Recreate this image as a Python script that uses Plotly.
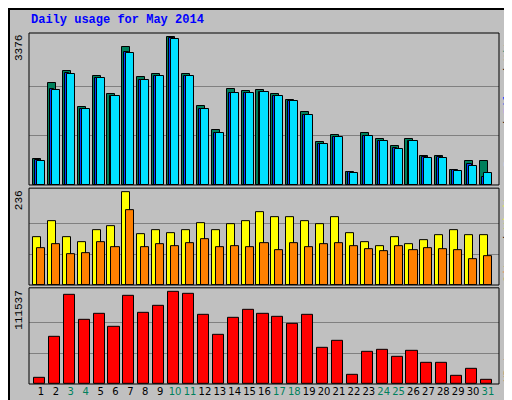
import plotly.graph_objects as go

days = list(range(1, 32))
hits = [603, 2322, 2597, 1772, 2482, 2070, 3147, 2459, 2528, 3376, 2528, 1795, 1245, 2184, 2139, 2162,
        2070, 1932, 1657, 970, 1130, 306, 1176, 1039, 878, 1039, 672, 657, 351, 558, 558]
files = [570, 2180, 2545, 1740, 2450, 2035, 3032, 2405, 2495, 3345, 2495, 1740, 1190, 2105, 2105, 2128,
         2035, 1920, 1600, 935, 1095, 290, 1120, 1005, 845, 1005, 640, 640, 335, 473, 176]
pages = [558, 2162, 2528, 1726, 2436, 2024, 3009, 2391, 2482, 3330, 2482, 1726, 1176, 2093, 2093, 2116,
         2024, 1910, 1589, 924, 1085, 283, 1108, 993, 832, 993, 626, 626, 328, 443, 283]
visits = [123, 162, 121, 110, 141, 151, 236, 131, 139, 133, 141, 159, 139, 154, 162, 187,
          172, 172, 162, 154, 172, 133, 110, 100, 123, 105, 115, 126, 141, 126, 126]
sites = [95, 103, 80, 82, 110, 97, 192, 97, 105, 100, 108, 118, 97, 100, 97, 108,
         90, 108, 97, 103, 108, 100, 92, 87, 100, 90, 95, 92, 90, 67, 74]
kbytes = [7734, 57804, 107873, 77343, 84670, 70016, 106652, 85891, 94440, 111537, 109095, 83449, 60247,
          79786, 89556, 84670, 81007, 73680, 83449, 44371, 52919, 11398, 39486, 41929, 33380, 40707,
          26053, 26053, 10177, 18725, 5292]
weekend = [3, 4, 10, 11, 17, 18, 24, 25, 31]

BG = "#C0C0C0"
fig = go.Figure()
def bar(y, color, off, w, ax):
    fig.add_trace(go.Bar(x=days, y=y, marker=dict(color=color, line=dict(color="black", width=1)),
                         offset=off, width=w, xaxis="x" + ax, yaxis="y" + ax, hoverinfo="y"))
bar(hits, "#00805C", -0.54, 0.54, "")
bar(files, "#0040FF", -0.4, 0.3, "")
bar(pages, "#00E0FF", -0.27, 0.54, "")
bar(visits, "#FFFF00", -0.54, 0.54, "2")
bar(sites, "#FF8000", -0.27, 0.54, "2")
bar(kbytes, "#FF0000", -0.47, 0.74, "3")

xr = [0.195, 31.74]
ticktext = [f"<span style='color:#00805C'>{d}</span>" if d in weekend else str(d) for d in days]
common_x = dict(range=xr, showgrid=False, zeroline=False, fixedrange=True, automargin=False)
common_y = dict(showticklabels=False, gridcolor="#808080", zeroline=False, automargin=False)
mono = "Liberation Mono"
fig.update_layout(
    width=512, height=400, margin=dict(l=21, r=21, t=25, b=24, autoexpand=False),
    paper_bgcolor=BG, plot_bgcolor=BG, barmode="overlay", showlegend=False, bargap=0,
    font=dict(family=mono, size=12, color="black"),
    xaxis=dict(**common_x, anchor="y", showticklabels=False),
    xaxis2=dict(**common_x, anchor="y2", showticklabels=False),
    xaxis3=dict(**common_x, anchor="y3", tickvals=days, ticktext=ticktext, ticks="", tickangle=0,
                tickfont=dict(family="DejaVu Sans", size=10)),
    yaxis=dict(**common_y, domain=[0.567, 1], range=[0, 3467], tickvals=[3376/3, 2*3376/3]),
    yaxis2=dict(**common_y, domain=[0.282, 0.558], range=[0, 247], tickvals=[236/3, 2*236/3]),
    yaxis3=dict(**common_y, domain=[0, 0.274], range=[0, 116800], tickvals=[111537/3, 2*111537/3]),
)
shapes = []
for dom in ([0.567, 1], [0.282, 0.558], [0, 0.274]):
    shapes.append(dict(type="rect", xref="paper", yref="paper", x0=0, x1=1, y0=dom[0], y1=dom[1],
                       line=dict(color="black", width=1)))
shapes.append(dict(type="rect", xref="paper", yref="paper", x0=-20/470, x1=1+20/470, y0=-23/351,
                   y1=1+24/351, line=dict(color="black", width=2)))
fig.update_layout(shapes=shapes)
ann = [
    dict(text="<b>Daily usage for May 2014</b>", x=0, y=1, xref="paper", yref="paper", xanchor="left",
         yanchor="bottom", yshift=4, showarrow=False, font=dict(color="#0000FF", size=12, family=mono)),
    dict(text="3376", x=0, y=1, xref="paper", yref="paper", xanchor="right", yanchor="top", textangle=-90,
         showarrow=False, xshift=-2, font=dict(size=11)),
    dict(text="236", x=0, y=0.558, xref="paper", yref="paper", xanchor="right", yanchor="top", textangle=-90,
         showarrow=False, xshift=-2, font=dict(size=11)),
    dict(text="111537", x=0, y=0.274, xref="paper", yref="paper", xanchor="right", yanchor="top", textangle=-90,
         showarrow=False, xshift=-2, font=dict(size=11)),
    dict(text="<span style='color:#00E0FF'>Pages</span> / <span style='color:#0040FF'>Files</span> / "
              "<span style='color:#00805C'>Hits</span>", x=1, y=1, xref="paper", yref="paper",
         xanchor="left", yanchor="top", textangle=-90, showarrow=False, xshift=1, font=dict(size=11)),
    dict(text="<span style='color:#FF8000'>Sites</span> / <span style='color:#FFFF00'>Visits</span>",
         x=1, y=0.558, xref="paper", yref="paper", xanchor="left", yanchor="top", textangle=-90,
         showarrow=False, xshift=1, font=dict(size=11)),
    dict(text="<span style='color:#FF0000'>KBytes</span>", x=1, y=0, xref="paper", yref="paper",
         xanchor="left", yanchor="bottom", textangle=-90, showarrow=False, xshift=1, font=dict(size=11)),
]
fig.update_layout(annotations=ann)
fig.write_html("out.html")
